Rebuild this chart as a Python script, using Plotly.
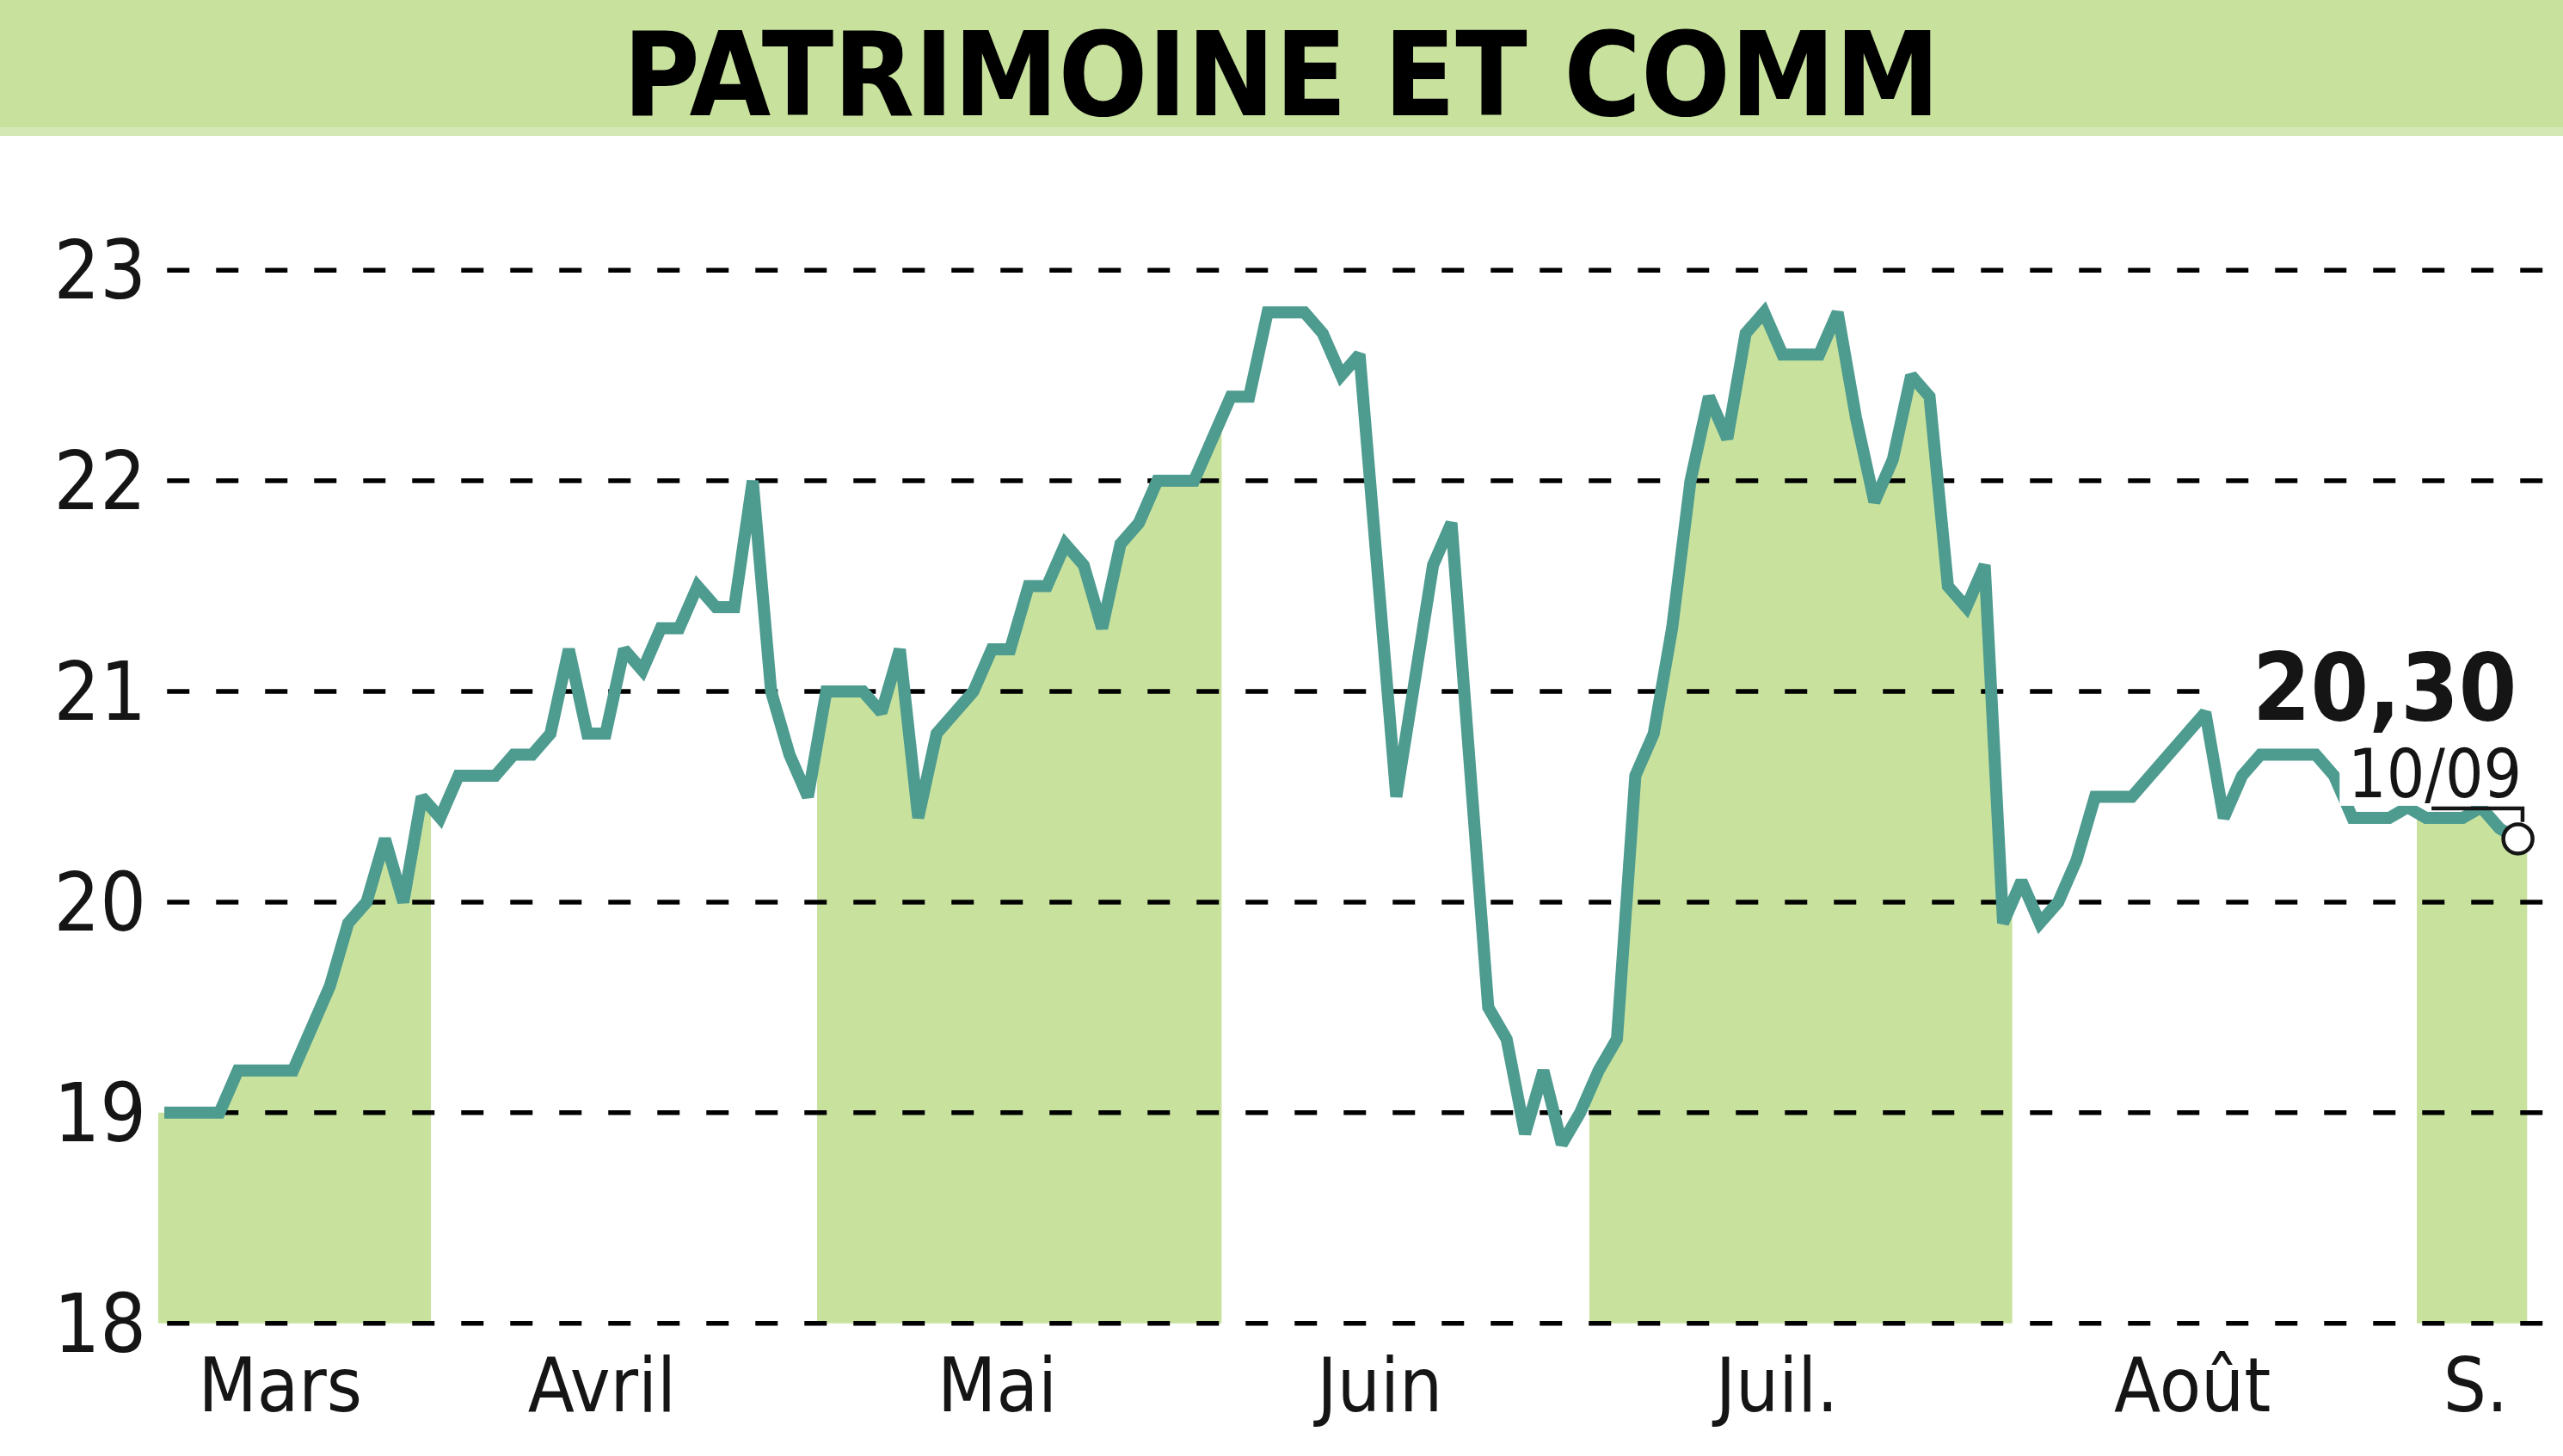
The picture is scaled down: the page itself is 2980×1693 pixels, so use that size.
import numpy as np
import plotly.graph_objects as go

# ---------------- data ----------------
months = ["Mars", "Avril", "Mai", "Juin", "Juil.", "Août", "S."]
month_start = [0, 15, 36, 58, 78, 101, 123]          # index of first session of each month
month_label_pos = [6.3, 23.8, 45.3, 66.1, 87.7, 110.3, 125.7]
shaded = [True, False, True, False, True, False, True]

prices = [
    19.0, 19.0, 19.0, 19.0, 19.2, 19.2, 19.2, 19.2, 19.4, 19.6,
    19.9, 20.0, 20.3, 20.0, 20.5, 20.4, 20.6, 20.6, 20.6, 20.7,
    20.7, 20.8, 21.2, 20.8, 20.8, 21.2, 21.1, 21.3, 21.3, 21.5,
    21.4, 21.4, 22.0, 21.0, 20.7, 20.5, 21.0, 21.0, 21.0, 20.9,
    21.2, 20.4, 20.8, 20.9, 21.0, 21.2, 21.2, 21.5, 21.5, 21.7,
    21.6, 21.3, 21.7, 21.8, 22.0, 22.0, 22.0, 22.2, 22.4, 22.4,
    22.8, 22.8, 22.8, 22.7, 22.5, 22.6, 21.55, 20.5, 21.05, 21.6,
    21.8, 20.6, 19.5, 19.35, 18.9, 19.2, 18.85, 19.0, 19.2, 19.35,
    20.6, 20.8, 21.3, 22.0, 22.4, 22.2, 22.7, 22.8, 22.6, 22.6,
    22.6, 22.8, 22.3, 21.9, 22.1, 22.5, 22.4, 21.5, 21.4, 21.6,
    19.9, 20.1, 19.9, 20.0, 20.2, 20.5, 20.5, 20.5, 20.6, 20.7,
    20.8, 20.9, 20.4, 20.6, 20.7, 20.7, 20.7, 20.7, 20.6, 20.4,
    20.4, 20.4, 20.45, 20.4, 20.4, 20.4, 20.45, 20.35, 20.3,
]
y_ticks = [18, 19, 20, 21, 22, 23]
title_text = "PATRIMOINE ET COMM"
last_value_text = "20,30"
last_date_text = "10/09"

# ---------------- layout constants ----------------
W, H = 2980, 1693
ML, MR, MT, MB = 184, 0, 204, 142
XMIN, XMAX = -0.33, 130.45
YMIN, YMAX = 17.95, 23.45
GREEN = "#c8e29e"
TEAL = "#4e9b8f"
INK = "#151515"
NARROW = "Liberation Sans Narrow, DejaVu Sans Condensed, Arial Narrow, sans-serif"

n = len(prices)
idx = np.arange(n)
vals = np.array(prices)

fig = go.Figure()

# month area fills (alternate months)
for k, on in enumerate(shaded):
    if not on:
        continue
    a = month_start[k] - 0.5
    b = (month_start[k + 1] - 0.5) if k + 1 < len(month_start) else (n - 1 + 0.5)
    inner = [i for i in idx if a < i < b]
    xs = [a] + inner + [b]
    ys = list(np.interp(xs, idx, vals))
    fig.add_trace(go.Scatter(
        x=xs + [b, a], y=ys + [y_ticks[0], y_ticks[0]],
        fill="toself", fillcolor=GREEN, mode="lines",
        line=dict(width=0, color=GREEN), hoverinfo="skip", showlegend=False))

# dashed grid lines (drawn above the fills)
gx, gy = [], []
for t in y_ticks:
    gx += [XMIN + 0.48, XMAX, None]
    gy += [t, t, None]
fig.add_trace(go.Scatter(x=gx, y=gy, mode="lines",
                         line=dict(color="black", width=5.5, dash="26px,31px"),
                         hoverinfo="skip", showlegend=False))

# price line
fig.add_trace(go.Scatter(x=idx, y=vals, mode="lines",
                         line=dict(color=TEAL, width=14),
                         hoverinfo="skip", showlegend=False))

last_i = n - 1
last_v = prices[-1]

# last point circle
fig.add_trace(go.Scatter(x=[last_i], y=[last_v], mode="markers",
                         marker=dict(size=34, color="white",
                                     line=dict(color=INK, width=4.5)),
                         cliponaxis=False, hoverinfo="skip", showlegend=False))

plot_w = W - ML - MR
plot_h = H - MT - MB

shapes = [
    # title band
    dict(type="rect", xref="paper", yref="paper",
         x0=-ML / plot_w, x1=1 + MR / plot_w,
         y0=1 + (MT - 158) / plot_h, y1=1 + MT / plot_h,
         fillcolor=GREEN, line=dict(width=0), layer="below"),
    dict(type="rect", xref="paper", yref="paper",
         x0=-ML / plot_w, x1=1 + MR / plot_w,
         y0=1 + (MT - 158) / plot_h, y1=1 + (MT - 148) / plot_h,
         fillcolor="#d3e8b5", line=dict(width=0), layer="below"),
    # white box behind the value label
    dict(type="rect", xref="x", yref="y",
         x0=last_i - 16.1, x1=XMAX, y0=last_v + 0.55, y1=last_v + 0.90,
         fillcolor="white", line=dict(width=0), layer="above"),
    # white box behind the date label
    dict(type="rect", xref="x", yref="y",
         x0=last_i - 9.7, x1=last_i + 0.6, y0=last_v + 0.157, y1=last_v + 0.56,
         fillcolor="white", line=dict(width=0), layer="above"),
    # bracket from label to the last point
    dict(type="path", xref="x", yref="y",
         path=f"M {last_i - 4.7},{last_v + 0.145} L {last_i + 0.25},{last_v + 0.145} "
              f"L {last_i + 0.25},{last_v + 0.08}",
         line=dict(color=INK, width=4.5), layer="above"),
]

annotations = [
    dict(x=last_i, y=last_v + 0.72, xref="x", yref="y", text=f"<b>{last_value_text}</b>",
         showarrow=False, xanchor="right", yanchor="middle",
         font=dict(family=NARROW, size=108, color=INK)),
    dict(x=last_i + 0.3, y=last_v + 0.31, xref="x", yref="y", text=last_date_text,
         showarrow=False, xanchor="right", yanchor="middle",
         font=dict(family=NARROW, size=78, color=INK)),
]

fig.update_layout(
    width=W, height=H,
    margin=dict(l=ML, r=MR, t=MT, b=MB, pad=0),
    paper_bgcolor="white", plot_bgcolor="white",
    showlegend=False,
    shapes=shapes, annotations=annotations,
    title=dict(text=f"<b>{title_text}</b>", x=0.5, xref="container", xanchor="center",
               y=1 - 86 / H, yref="container", yanchor="middle",
               font=dict(family=NARROW, size=136, color="black")),
    xaxis=dict(range=[XMIN, XMAX], tickmode="array", tickvals=month_label_pos,
               ticktext=months, showgrid=False, zeroline=False, showline=False,
               ticks="", ticklabelstandoff=1,
               tickfont=dict(family=NARROW, size=88, color=INK), fixedrange=True),
    yaxis=dict(range=[YMIN, YMAX], tickmode="array", tickvals=y_ticks,
               ticktext=[str(t) for t in y_ticks], showgrid=False, zeroline=False,
               showline=False, ticks="", ticklabelstandoff=13,
               tickfont=dict(family=NARROW, size=94, color=INK), fixedrange=True),
)

fig.write_html("out.html",
               config={"displayModeBar": False, "staticPlot": True},
               post_script="document.body.style.margin='0px';"
                           "document.body.style.overflow='hidden';")
